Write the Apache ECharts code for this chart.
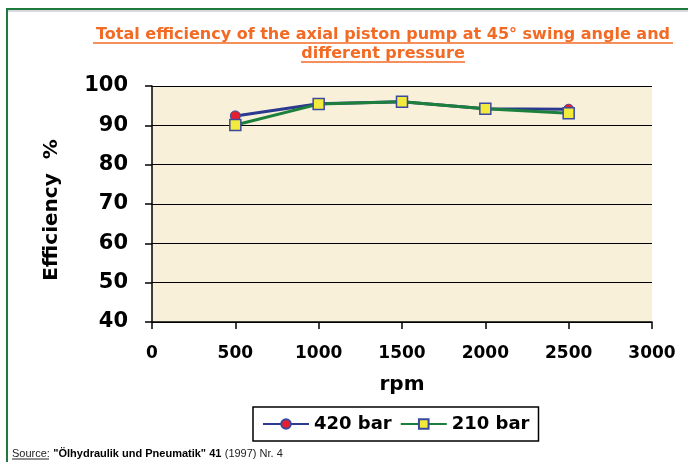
<!DOCTYPE html>
<html>
<head>
<meta charset="utf-8">
<script src="https://cdn.jsdelivr.net/npm/echarts@6/dist/echarts.min.js"></script>
<style>
html,body{margin:0;padding:0;background:#fff;}
#chart{width:688px;height:462px;}
</style>
</head>
<body>
<div id="chart"></div>
<script>
var rpm = [500, 1000, 1500, 2000, 2500];
var eff420 = [92.4, 95.5, 96.0, 94.2, 94.1];
var eff210 = [90.1, 95.4, 96.0, 94.2, 93.1];
var seriesNames = ['420 bar', '210 bar'];
var titleText = 'Total efficiency of the axial piston pump at 45\u00b0 swing angle and\ndifferent pressure';

function pairs(xs, ys) { return xs.map(function (x, i) { return [x, ys[i]]; }); }

var chart = echarts.init(document.getElementById('chart'), null, {renderer: 'canvas'});
var orange = '#f26a24';
var axisFont = 'DejaVu Sans';
chart.setOption({
  backgroundColor: '#ffffff',
  animation: false,
  title: {
    text: titleText,
    left: 383,
    top: 25,
    padding: 0,
    textAlign: 'center',
    textStyle: {
      color: orange, fontFamily: 'DejaVu Sans', fontWeight: 'bold',
      fontSize: 16, lineHeight: 19
    }
  },
  grid: {
    left: 152, right: 36, top: 86, bottom: 140,
    show: true, backgroundColor: '#f9f0da', borderWidth: 0
  },
  legend: {
    data: seriesNames,
    left: 253, top: 407,
    backgroundColor: '#ffffff',
    borderColor: '#000000', borderWidth: 1.5, borderRadius: 0,
    padding: [8, 9, 8, 9],
    itemWidth: 46, itemHeight: 12, itemGap: 8,
    textStyle: {fontFamily: axisFont, fontWeight: 'bold', fontSize: 18, color: '#000'}
  },
  xAxis: {
    type: 'value', min: 0, max: 3000, interval: 500,
    name: 'rpm', nameLocation: 'middle', nameGap: 53,
    nameTextStyle: {fontFamily: axisFont, fontWeight: 'bold', fontSize: 20, color: '#000'},
    axisLine: {show: true, lineStyle: {color: '#000', width: 1.5}},
    axisTick: {show: true, length: 7, lineStyle: {color: '#000', width: 1.5}},
    axisLabel: {margin: 23, fontFamily: axisFont, fontWeight: 'bold', fontSize: 17, color: '#000',
      formatter: function (v) { return String(v); }},
    splitLine: {show: false}
  },
  yAxis: {
    type: 'value', min: 40, max: 100, interval: 10,
    name: 'Efficiency  %', nameLocation: 'middle', nameGap: 90,
    nameTextStyle: {fontFamily: axisFont, fontWeight: 'bold', fontSize: 20, color: '#000',
      padding: [0, 12, 0, 0]},
    axisLine: {show: true, lineStyle: {color: '#000', width: 1.5}},
    axisTick: {show: true, length: 7, lineStyle: {color: '#000', width: 1.5}},
    axisLabel: {margin: 24, fontFamily: axisFont, fontWeight: 'bold', fontSize: 21, color: '#000'},
    splitLine: {show: true, lineStyle: {color: '#000', width: 1.2}}
  },
  series: [
    {
      name: seriesNames[0], type: 'line', data: pairs(rpm, eff420),
      symbol: 'circle', symbolSize: 10,
      lineStyle: {color: '#2b3990', width: 3},
      itemStyle: {color: '#e5202e', borderColor: '#3b4aa0', borderWidth: 1}
    },
    {
      name: seriesNames[1], type: 'line', data: pairs(rpm, eff210),
      symbol: 'rect', symbolSize: 11,
      lineStyle: {color: '#1d7f3c', width: 3},
      itemStyle: {color: '#f2ea3c', borderColor: '#3b4aa0', borderWidth: 1.5}
    }
  ],
  graphic: [
    {type: 'line', shape: {x1: 7, y1: 9, x2: 688, y2: 9}, style: {stroke: '#1f7a3e', lineWidth: 2}},
    {type: 'line', shape: {x1: 7, y1: 11, x2: 688, y2: 11}, style: {stroke: '#c9ccd6', lineWidth: 1.5}},
    {type: 'line', shape: {x1: 7, y1: 8, x2: 7, y2: 462}, style: {stroke: '#1f7a3e', lineWidth: 2}},
    {type: 'line', shape: {x1: 93, y1: 43, x2: 673, y2: 43}, style: {stroke: orange, lineWidth: 1.5}},
    {type: 'line', shape: {x1: 301, y1: 62, x2: 465, y2: 62}, style: {stroke: orange, lineWidth: 1.5}},
    {
      type: 'text', left: 12, top: 448,
      style: {
        text: '{a|Source:} {b|"\u00d6lhydraulik und Pneumatik" 41} {c|(1997) Nr. 4}',
        rich: {
          a: {fontFamily: 'Liberation Sans', fontSize: 11, fill: '#222'},
          b: {fontFamily: 'Liberation Sans', fontSize: 11, fontWeight: 'bold', fill: '#000'},
          c: {fontFamily: 'Liberation Sans', fontSize: 11, fill: '#222'}
        }
      }
    },
    {type: 'line', shape: {x1: 12, y1: 459, x2: 49, y2: 459}, style: {stroke: '#222', lineWidth: 1}}
  ]
});
</script>
</body>
</html>
